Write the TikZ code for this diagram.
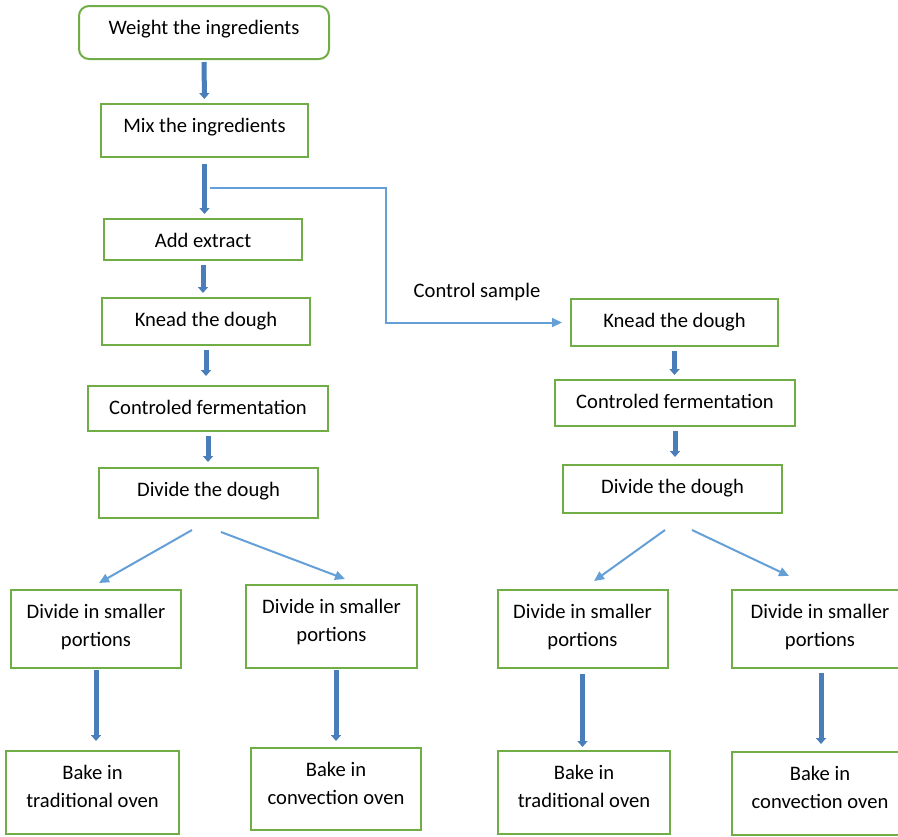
\documentclass[tikz,border=0pt]{standalone}
\usepackage{fontspec}
\setmainfont{Carlito}
\usepackage{tikz}
\usetikzlibrary{arrows.meta}
\definecolor{boxgreen}{RGB}{112,173,71}
\definecolor{flowblue}{RGB}{74,126,187}
\definecolor{lightblue}{RGB}{100,160,215}
\tikzstyle{box} = [rectangle, draw=boxgreen, line width=1pt, align=center, inner sep=3pt, text height=11pt]
\tikzstyle{twoline} = [text height=25pt]
\tikzstyle{bigarrow} = [draw=flowblue, line width=2.5pt, -{Triangle[width=5pt,length=3pt]}, shorten <=2pt, shorten >=2pt]
\tikzstyle{arrow} = [draw=lightblue, line width=1pt, -{Triangle[width=4.5pt,length=5pt]}]

\begin{document}
\begin{tikzpicture}[x=0.5pt, y=-0.5pt, font=\fontsize{10.3pt}{14pt}\selectfont]
          \useasboundingbox (0,0) rectangle (898,836);
          \node (weigh) [box, rounded corners=5pt, minimum width=125pt, text depth=9.5pt] at (204,32.5) {Weight the ingredients};
          \node (mix) [box, minimum width=103.5pt, text depth=9.5pt] at (204.5,130.5) {Mix the ingredients};
          \node (add) [box, minimum width=99pt, text depth=3.5pt] at (203,239.5) {Add extract};
          \node (kneadL) [box, minimum width=104pt, text depth=6.5pt] at (206,321.5) {Knead the dough};
          \node (fermL) [box, minimum width=120pt, text depth=5.5pt] at (208,408.5) {Controled fermentation};
          \node (divL) [box, minimum width=109.5pt, text depth=8pt] at (208.5,493) {Divide the dough};
          \node (porLa) [box, twoline, minimum width=85pt, text depth=8pt] at (96,629) {Divide in smaller\\portions};
          \node (porLb) [box, twoline, minimum width=85.5pt, text depth=10.5pt] at (331.5,626.5) {Divide in smaller\\portions};
          \node (bakeLa) [box, twoline, minimum width=86.5pt, text depth=10.5pt] at (92.5,792.5) {Bake in\\traditional oven};
          \node (bakeLb) [box, twoline, minimum width=85pt, text depth=10pt] at (336,789) {Bake in\\convection oven};
          \node (ctrl) at (477,292) {Control sample};
          \node (kneadR) [box, minimum width=103.5pt, text depth=6.5pt] at (674.5,322.5) {Knead the dough};
          \node (fermR) [box, minimum width=120pt, text depth=6pt] at (675,403) {Controled fermentation};
          \node (divR) [box, minimum width=109.5pt, text depth=7pt] at (672.5,489) {Divide the dough};
          \node (porRa) [box, twoline, minimum width=85pt, text depth=8pt] at (582.5,629) {Divide in smaller\\portions};
          \node (porRb) [box, twoline, minimum width=88pt, text depth=8pt] at (820,629) {Divide in smaller\\portions};
          \node (bakeRa) [box, twoline, minimum width=86pt, text depth=10.5pt] at (584,792.5) {Bake in\\traditional oven};
          \node (bakeRb) [box, twoline, minimum width=88pt, text depth=10.5pt] at (820,793.5) {Bake in\\convection oven};
          \coordinate (split) at ([xshift=2.75pt,yshift=-15pt]mix.south);
          \draw [bigarrow, shorten <=1pt] (weigh) -- (mix);
          \draw [bigarrow, shorten <=3pt] (mix.south) -- (mix.south |- add.north);
          \draw [bigarrow] (add.south) -- (add.south |- kneadL.north);
          \draw [bigarrow, shorten >=4.5pt] (kneadL) -- (kneadL.south |- fermL.north);
          \draw [bigarrow, shorten >=2.5pt] (fermL.south) -- (fermL.south |- divL.north);
          \draw [bigarrow, shorten <=0.5pt, shorten >=4.5pt] (porLa.south) -- (porLa.south |- bakeLa.north);
          \draw [bigarrow, shorten <=0.5pt, shorten >=3pt] (bakeLb.north |- porLb.south) -- (bakeLb.north);
          \draw [bigarrow] (kneadR.south) -- (kneadR.south |- fermR.north);
          \draw [bigarrow, shorten >=3.5pt] (fermR.south) -- (fermR.south |- divR.north);
          \draw [bigarrow, shorten <=2.5pt, shorten >=1.5pt] (porRa.south) -- (porRa.south |- bakeRa.north);
          \draw [bigarrow, shorten >=3.5pt] ([xshift=0.5pt]porRb.south) -- ([xshift=0.5pt]porRb.south |- bakeRb.north);
          \draw [arrow] ([shift={(-8.25pt,-5.5pt)}]divL.south) -- ([shift={(1.5pt,3pt)}]porLa.north);
          \draw [arrow] ([shift={(6.25pt,-6.5pt)}]divL.south) -- ([shift={(6.75pt,2.5pt)}]porLb.north);
          \draw [arrow] ([shift={(-3.75pt,-8pt)}]divR.south) -- ([shift={(5.75pt,4pt)}]porRa.north);
          \draw [arrow] ([shift={(9.75pt,-8pt)}]divR.south) -- ([shift={(-15.5pt,6.5pt)}]porRb.north);
          \draw [arrow] (split) -| ([xshift=-92pt]kneadR.west) -- ([xshift=-4pt]kneadR.west);
        \end{tikzpicture}
\end{document}
